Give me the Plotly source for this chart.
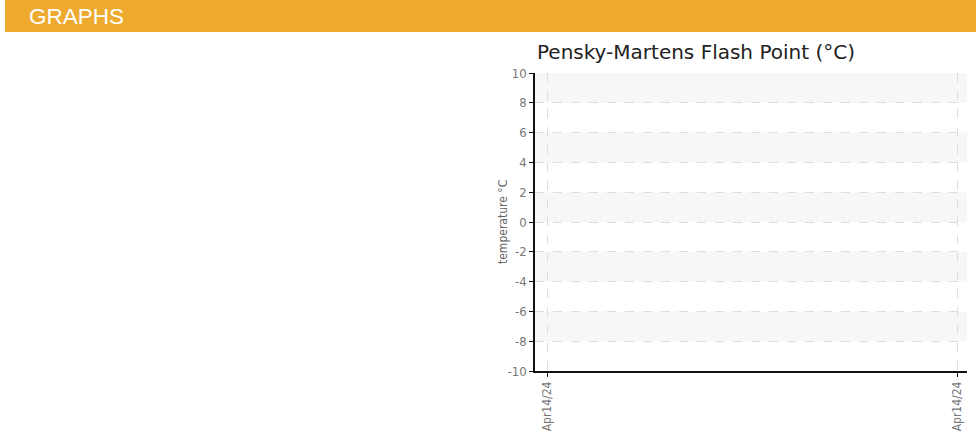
import plotly.graph_objects as go

# ---- data ----
x_positions = [0, 1]
x_tick_labels = ["Apr14/24", "Apr14/24"]
flash_point_values = [None, None]   # no readings shown
y_ticks = [-10, -8, -6, -4, -2, 0, 2, 4, 6, 8, 10]
y_tick_labels = ["-10", "-8", "-6", "-4", "-2", "0", "2", "4", "6", "8", "10"]
band_pairs = [(8, 10), (4, 6), (0, 2), (-4, -2), (-8, -6)]

W, H = 976, 439
L, R, T, B = 535, 9, 73, 68

cond = "DejaVu Sans Condensed, Liberation Sans Narrow, sans-serif"
tick_font = dict(family=cond, size=13, color="#777777")

fig = go.Figure()
fig.add_trace(go.Scatter(x=x_positions, y=flash_point_values, mode="lines+markers",
                         line=dict(color="#4572A7"), showlegend=False, hoverinfo="skip"))

shapes = []
pw, ph = W - L - R, H - T - B
# header bar
shapes.append(dict(type="rect", xref="paper", yref="paper",
                   x0=(5 - L) / pw, x1=(976 - L) / pw,
                   y0=1 + (T - 32) / ph, y1=1 + (T + 2) / ph,
                   fillcolor="#EDAA2F", line=dict(width=0), layer="below"))
# alternating bands
for lo, hi in band_pairs:
    shapes.append(dict(type="rect", xref="paper", yref="y", x0=0, x1=1, y0=lo, y1=hi,
                       fillcolor="#F7F7F7", line=dict(width=0), layer="below"))

fig.update_layout(
    width=W, height=H,
    margin=dict(l=L, r=R, t=T, b=B, autoexpand=False),
    paper_bgcolor="white", plot_bgcolor="white",
    shapes=shapes,
    title=dict(text="Pensky-Martens Flash Point (°C)", x=696 / W, xanchor="center",
               y=1 - 52 / H, yanchor="middle",
               font=dict(family="DejaVu Sans, Verdana, sans-serif", size=20, color="#222222")),
    annotations=[
        dict(text="GRAPHS", xref="paper", yref="paper",
             x=(27 - L) / pw, y=1 + (T - 16) / ph,
             xanchor="left", yanchor="middle", showarrow=False,
             font=dict(family="Liberation Sans, Arial, sans-serif", size=22.5, color="white")),
        dict(text="temperature °C", xref="paper", yref="paper",
             x=(503 - L) / pw, y=0.5, textangle=-90,
             xanchor="center", yanchor="middle", showarrow=False,
             font=dict(family=cond, size=12, color="#666666")),
    ],
    xaxis=dict(range=[-0.0295, 1.0242], tickvals=x_positions, ticktext=x_tick_labels,
               tickangle=-90, tickfont=dict(family=cond, size=12, color="#777777"), automargin=False,
               showgrid=True, gridcolor="#DDDDDD", griddash="dash", gridwidth=1,
               showline=True, linecolor="#111111", linewidth=1.5,
               ticks="outside", ticklen=4, tickcolor="#111111", zeroline=False, fixedrange=True),
    yaxis=dict(range=[-10, 10], tickvals=y_ticks, ticktext=y_tick_labels, tickfont=tick_font,
               automargin=False,
               showgrid=True, gridcolor="#DDDDDD", griddash="dash", gridwidth=1,
               showline=True, linecolor="#111111", linewidth=1.5,
               ticks="outside", ticklen=4, tickcolor="#111111", zeroline=False, fixedrange=True),
)

fig.write_html("out.html", config={"displayModeBar": False},
               post_script="document.body.style.margin='0';")
